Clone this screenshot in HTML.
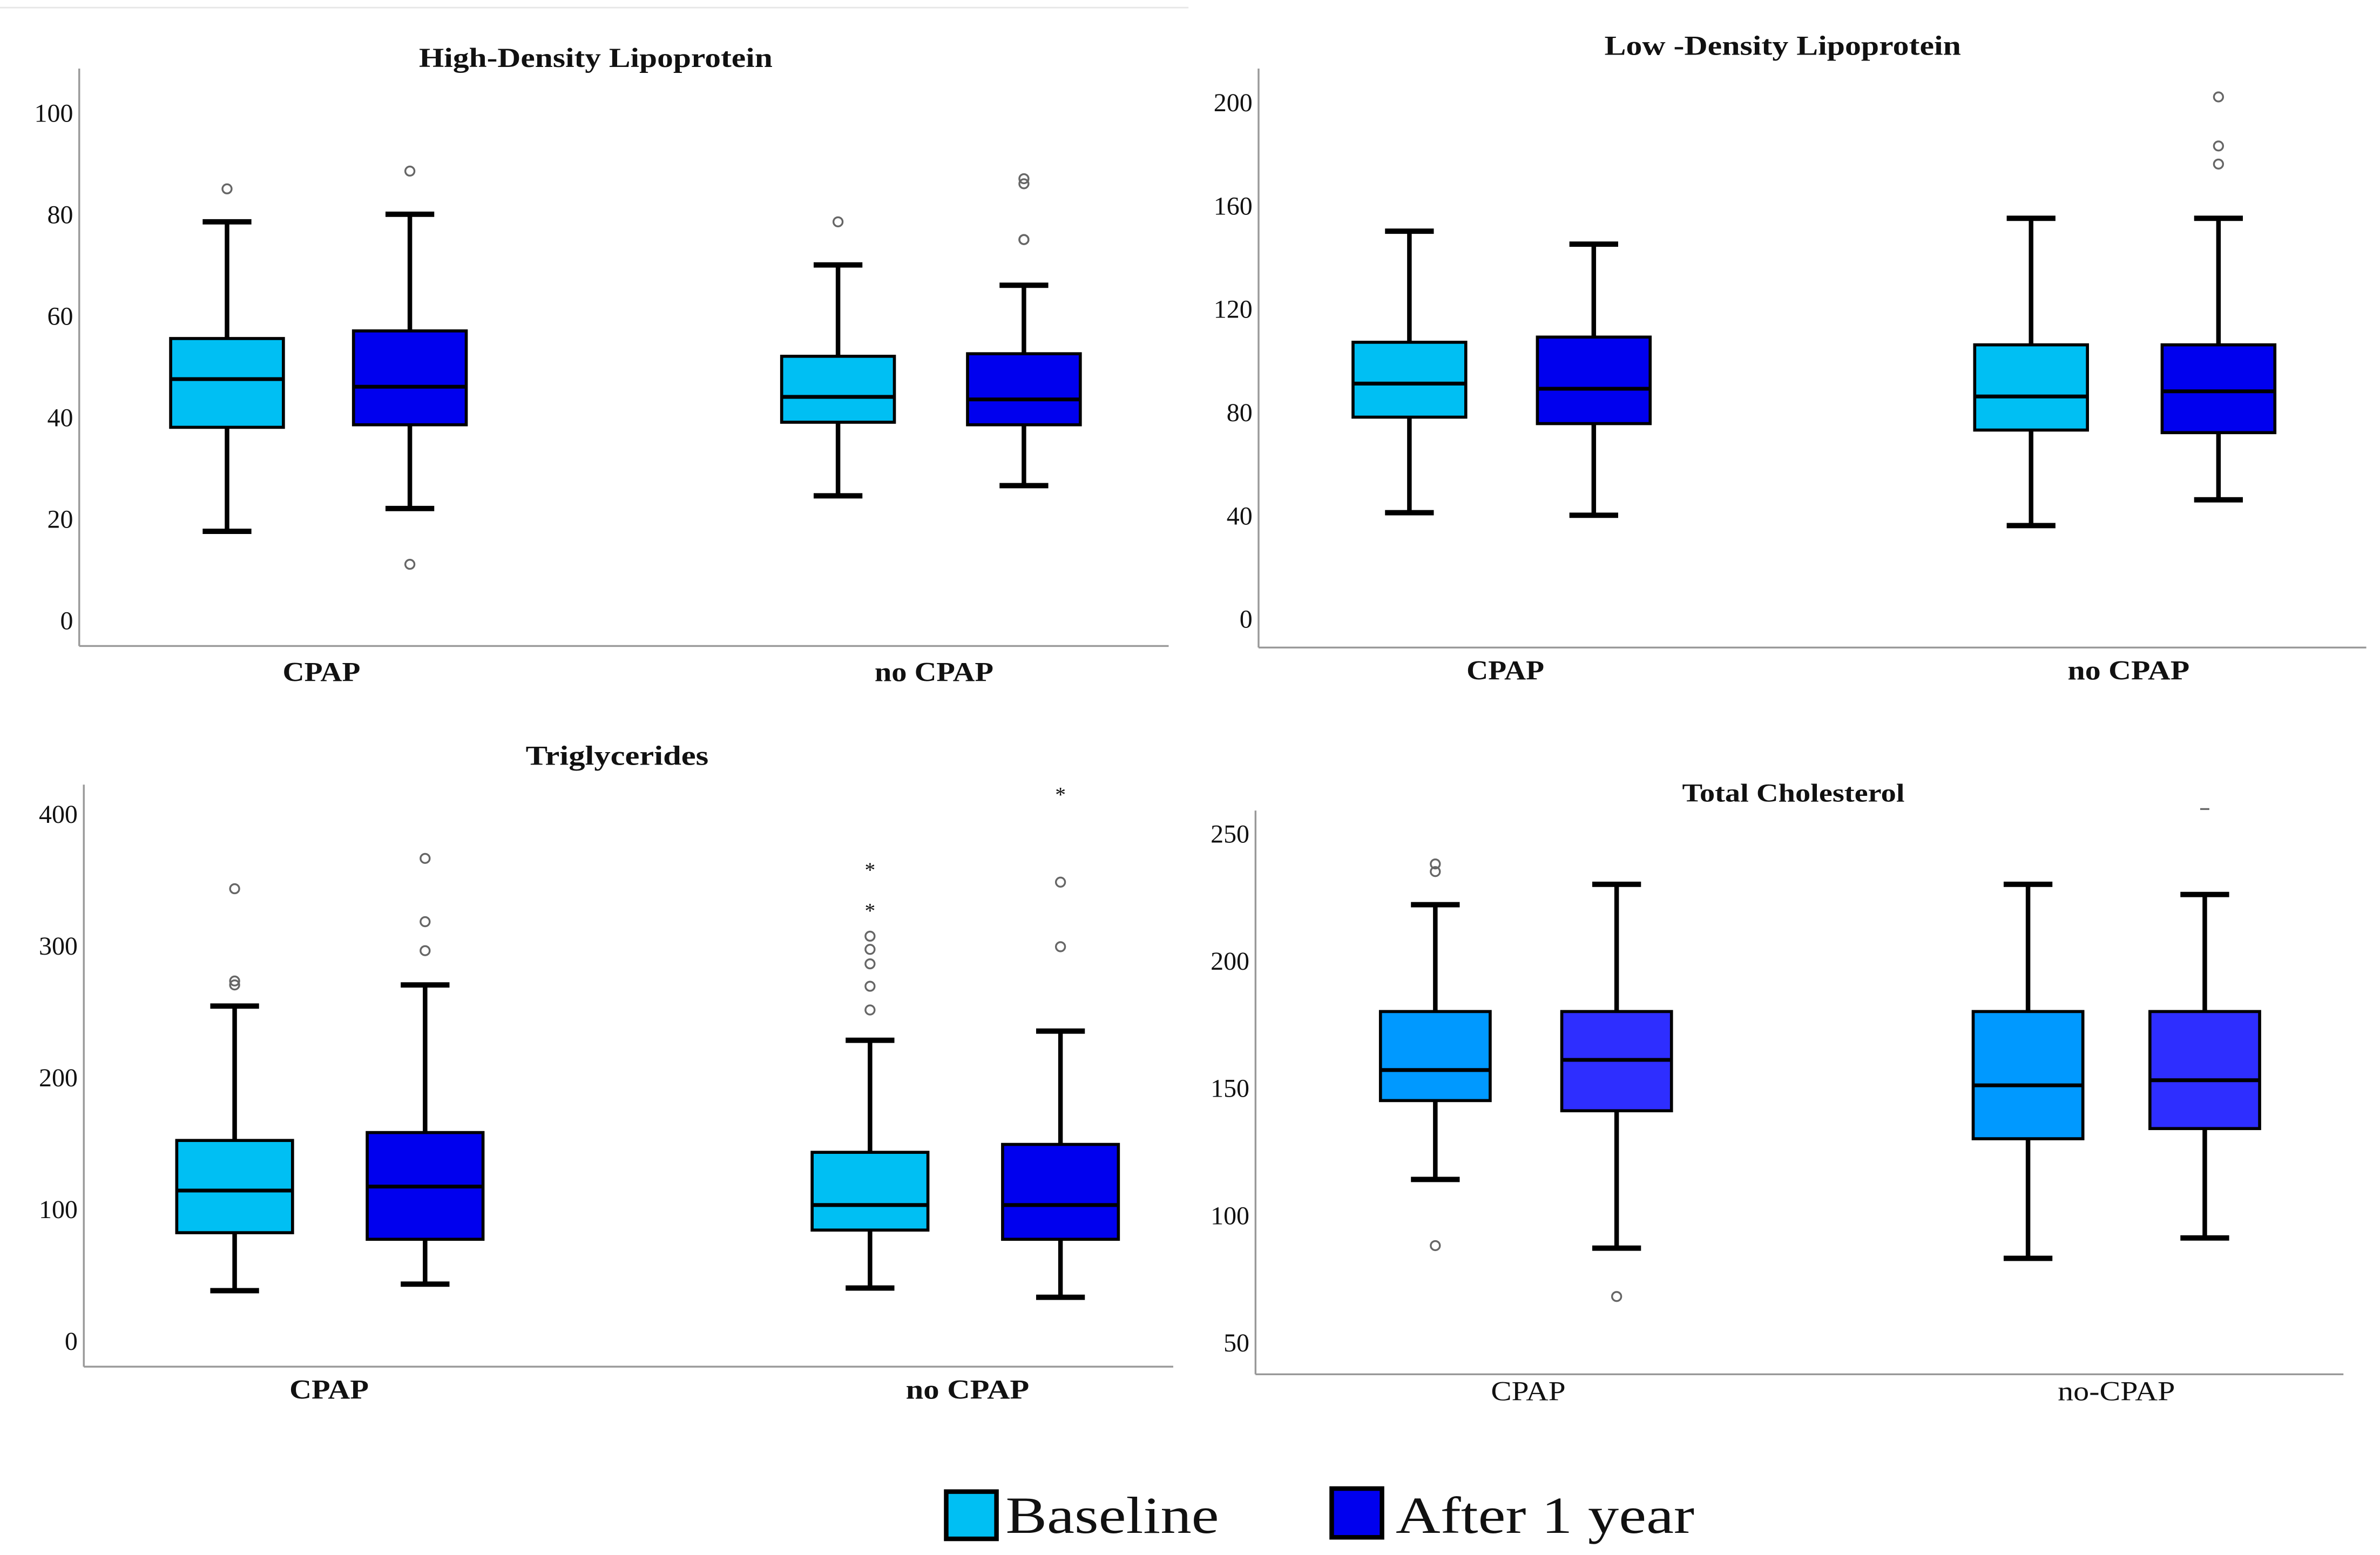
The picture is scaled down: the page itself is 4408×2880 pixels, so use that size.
<!DOCTYPE html>
<html><head><meta charset="utf-8">
<style>
html,body{margin:0;padding:0;background:#fff;}
svg{display:block;}
text{font-family:"Liberation Serif",serif;fill:#111;}
</style></head>
<body>
<svg id="fig" width="4408" height="2880" viewBox="0 0 1562 1020.6" preserveAspectRatio="none" xmlns="http://www.w3.org/2000/svg">
<line x1="0" y1="5" x2="780" y2="5" stroke="#e6e6e6" stroke-width="1"/>
<g id="legend">
  <rect x="621" y="979" width="33" height="31" fill="#00bff3" stroke="#000" stroke-width="3"/>
  <text x="660" y="1006" font-size="34" textLength="140" lengthAdjust="spacingAndGlyphs">Baseline</text>
  <rect x="874" y="977" width="33" height="32" fill="#0000ee" stroke="#000" stroke-width="3"/>
  <text x="916" y="1006" font-size="34" textLength="196" lengthAdjust="spacingAndGlyphs">After 1 year</text>
</g>
</svg>
<script>
// ---- data ----
const categories = ["CPAP","no CPAP"];
const seriesNames = ["Baseline","After 1 year"];
// each box: [whiskerLow, Q1, median, Q3, whiskerHigh]
const hdlBoxes = [[17.5,38,47.5,55.5,78.5],[22,38.5,46,57,80],[24.5,39,44,52,70],[26.5,38.5,43.5,52.5,66]];
const hdlOutliers = [[85],[88.5,11],[78.5],[75,75,86,87]];
const hdlStars = [[],[],[],[]];
const hdlTicks = [0,20,40,60,80,100];

const ldlBoxes = [[41,78,91,107,150],[40,75.5,89,109,145],[36,73,86,106,155],[46,72,88,106,155]];
const ldlOutliers = [[],[],[],[176,183,202]];
const ldlStars = [[],[],[],[]];
const ldlTicks = [0,40,80,120,160,200];

const tgBoxes = [[38,82,114,152,254],[43,77,117,158,270],[40,84,103,143,228],[33,77,103,149,235]];
const tgOutliers = [[270,273,343],[296,318,366],[251,269,286,297,307],[299,348]];
const tgStars = [[],[],[328,359],[416]];
const tgTicks = [0,100,200,300,400];

const tcBoxes = [[114,145,157,180,222],[87,141,161,180,230],[83,130,151,180,230],[91,134,153,180,226]];
const tcOutliers = [[88,235,238],[68],[],[]];
const tcStars = [[],[],[],[]];
const tcTicks = [50,100,150,200,250];

// ---- layout ----
const NS = "http://www.w3.org/2000/svg";
const svg = document.getElementById('fig');
function mk(tag, attrs, parent){
  const e = document.createElementNS(NS, tag);
  for (const k in attrs) e.setAttribute(k, attrs[k]);
  (parent||svg).appendChild(e);
  return e;
}
const panels = [
  {key:'hdl', title:'High-Density Lipoprotein', tw:232, tx:391, ty:44, tsize:18, ax:52, top:45, bottom:424, right:767, vmin:0, v0y:407, v1:100, v1y:74,
   centers:[149,269,550,672], bw:74, catX:[211,613], catW:[51,78], catY:447, catBold:true, colors:['#00bff3','#0000ee'], boxes:hdlBoxes, outs:hdlOutliers, stars:hdlStars, ticks:hdlTicks, labels:['CPAP','no CPAP']},
  {key:'ldl', title:'Low -Density Lipoprotein', tw:234, tx:1170, ty:36, tsize:18, ax:826, top:45, bottom:425, right:1553, vmin:0, v0y:406, v1:200, v1y:67,
   centers:[925,1046,1333,1456], bw:74, catX:[988,1397], catW:[51,80], catY:446, catBold:true, colors:['#00bff3','#0000ee'], boxes:ldlBoxes, outs:ldlOutliers, stars:ldlStars, ticks:ldlTicks, labels:['CPAP','no CPAP']},
  {key:'tg', title:'Triglycerides', tw:120, tx:405, ty:502, tsize:18, ax:55, top:515, bottom:897, right:770, vmin:0, v0y:880, v1:400, v1y:534,
   centers:[154,279,571,696], bw:76, catX:[216,635], catW:[52,81], catY:918, catBold:true, colors:['#00bff3','#0000ee'], boxes:tgBoxes, outs:tgOutliers, stars:tgStars, ticks:tgTicks, labels:['CPAP','no CPAP']},
  {key:'tc', title:'Total Cholesterol', tw:146, tx:1177, ty:526, tsize:17, ax:824, top:532, bottom:902, right:1538, vmin:50, v0y:881, v1:250, v1y:547,
   centers:[942,1061,1331,1447], bw:72, catX:[1003,1389], catW:[49,77], catY:919, catBold:false, colors:['#0099ff','#2e2eff'], boxes:tcBoxes, outs:tcOutliers, stars:tcStars, ticks:tcTicks, labels:['CPAP','no-CPAP']}
];
panels.forEach(p=>{
  const g = mk('g',{});
  
  
  const y = v => p.v0y + (v - p.vmin) * (p.v1y - p.v0y) / (p.v1 - p.vmin);
  const t = mk('text',{x:p.tx,y:p.ty,'text-anchor':'middle','font-size':p.tsize,'font-weight':'bold',textLength:p.tw,lengthAdjust:'spacingAndGlyphs'},g);
  t.textContent = p.title;
  
  
  const ya = mk('line',{x1:p.ax,y1:p.top,x2:p.ax,y2:p.bottom,stroke:'#999','stroke-width':1.2},g);
  
  
  const xa = mk('line',{x1:p.ax,y1:p.bottom,x2:p.right,y2:p.bottom,stroke:'#999','stroke-width':1.2},g);
  
  
  p.ticks.forEach(v=>{
    const tl = mk('text',{x:p.ax-4,y:y(v)+6,'text-anchor':'end','font-size':17},g);
    tl.textContent = v;
    
    
  });
  p.labels.forEach((c,i)=>{
    const cl = mk('text',{x:p.catX[i],y:p.catY,'text-anchor':'middle','font-size':18,'font-weight':p.catBold?'bold':'normal',textLength:p.catW[i],lengthAdjust:'spacingAndGlyphs'},g);
    cl.textContent = c;
    
    
  });
  p.boxes.forEach((b,i)=>{
    const cx = p.centers[i], hw = p.bw/2, cap = 16;
    const bg = mk('g',{},g);
    
    
    mk('line',{x1:cx,y1:y(b[0]),x2:cx,y2:y(b[4]),stroke:'#000','stroke-width':3},bg);
    mk('line',{x1:cx-cap,y1:y(b[0]),x2:cx+cap,y2:y(b[0]),stroke:'#000','stroke-width':3.5},bg);
    mk('line',{x1:cx-cap,y1:y(b[4]),x2:cx+cap,y2:y(b[4]),stroke:'#000','stroke-width':3.5},bg);
    mk('rect',{x:cx-hw,y:y(b[3]),width:p.bw,height:y(b[1])-y(b[3]),fill:p.colors[i%2],stroke:'#000','stroke-width':2},bg);
    mk('line',{x1:cx-hw,y1:y(b[2]),x2:cx+hw,y2:y(b[2]),stroke:'#000','stroke-width':2.5},bg);
    p.outs[i].forEach(v=>{
      const c = mk('circle',{cx:cx,cy:y(v),r:3,fill:'none',stroke:'#666','stroke-width':1.2},bg);
      
      
    });
    p.stars[i].forEach(v=>{
      const s = mk('text',{x:cx,y:y(v)+6,'text-anchor':'middle','font-size':14},bg);
      s.textContent = '*';
      
      
    });
  });
});
// small clipped outlier mark at top of total cholesterol panel
const clip = mk('line',{x1:1444,y1:531,x2:1450,y2:531,stroke:'#666','stroke-width':1.2});


</script>
</body></html>
